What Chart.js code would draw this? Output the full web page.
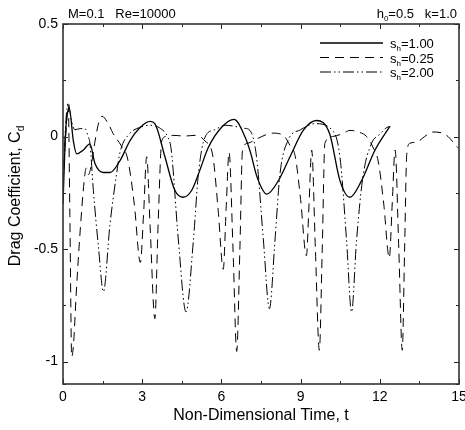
<!DOCTYPE html>
<html>
<head>
<meta charset="utf-8">
<script src="https://cdn.jsdelivr.net/npm/chart.js@4"></script>
<style>
  html, body { margin: 0; padding: 0; background: #fff; }
  #wrap { width: 465px; height: 430px; }
</style>
</head>
<body>
<div id="wrap"><canvas id="c" width="465" height="430"></canvas></div>
<script>
// ---- data ----
const solidT = [0,0.1,0.24,0.39,0.52,0.77,1.02,1.21,1.53,1.78,2.16,2.54,2.92,3.3,3.48,3.86,4.24,4.56,4.87,5.13,5.5,6.0,6.48,6.9,7.1,7.35,7.72,8.16,8.6,9.1,9.6,10.1,10.49,10.87,11.31,11.82,12.38];
const solidCd = [-0.3,0.02,0.124,-0.018,-0.077,-0.06,-0.033,-0.12,-0.16,-0.16,-0.107,-0.018,0.04,0.067,0.057,-0.09,-0.24,-0.27,-0.24,-0.167,-0.05,0.04,0.076,-0.003,-0.07,-0.18,-0.256,-0.196,-0.09,0.027,0.071,0.012,-0.196,-0.27,-0.196,-0.06,0.045];

const dashT = [0,0.1,0.2,0.26,0.33,0.4,0.5,0.65,0.8,0.88,0.96,1.05,1.2,1.35,1.48,1.7,1.9,2.2,2.45,2.7,2.93,3.05,3.17,3.3,3.48,3.6,3.74,3.9,4.2,4.6,5.0,5.38,5.68,5.88,6.07,6.18,6.29,6.44,6.58,6.7,6.8,7.0,7.35,7.95,8.35,8.6,8.8,9.0,9.22,9.32,9.42,9.56,9.71,9.82,9.92,10.2,10.6,10.87,11.19,11.5,11.75,11.94,12.15,12.36,12.47,12.58,12.72,12.85,12.94,13.02,13.14,13.4,13.7,14.0,14.47,14.96];
const dashCd = [-0.2,0.0,0.14,-0.35,-0.98,-0.92,-0.7,-0.42,-0.2,-0.14,-0.17,-0.14,-0.03,0.06,0.09,0.06,0.013,-0.04,-0.1,-0.3,-0.56,-0.35,-0.09,-0.4,-0.81,-0.4,-0.02,0.0,0.005,0.002,0.005,-0.02,-0.09,-0.33,-0.59,-0.32,-0.07,-0.5,-0.955,-0.5,-0.06,-0.03,-0.01,0.015,0.004,-0.04,-0.09,-0.28,-0.53,-0.3,-0.06,-0.5,-0.95,-0.5,-0.03,0.0,0.013,0.027,0.02,0.0,-0.05,-0.11,-0.3,-0.54,-0.3,-0.06,-0.5,-0.95,-0.5,-0.08,-0.03,-0.025,0.0,0.02,0.01,-0.05];

const ddT = [0,0.1,0.2,0.3,0.45,0.65,0.83,0.95,1.02,1.15,1.35,1.53,1.78,2.03,2.16,2.5,2.9,3.3,3.7,3.97,4.1,4.37,4.66,4.94,5.13,5.38,5.75,6.14,6.9,7.08,7.33,7.59,7.82,8.03,8.22,8.52,9.0,9.55,10.18,10.49,10.74,10.93,11.12,11.36,11.69,12.0,12.26,12.4];
const ddCd = [-0.25,0.05,0.15,0.08,0.03,0.035,0.035,0.0,-0.03,-0.24,-0.5,-0.69,-0.39,-0.165,-0.07,0.01,0.04,0.05,0.035,-0.003,-0.06,-0.46,-0.78,-0.46,-0.165,-0.003,0.03,0.05,0.036,0.027,-0.09,-0.46,-0.765,-0.46,-0.166,-0.018,0.03,0.057,0.03,-0.09,-0.46,-0.78,-0.46,-0.18,-0.03,0.01,0.04,0.045];

const seriesValues = ['1.00', '0.25', '2.00'];
const xTickValues = [0,1.5,3,4.5,6,7.5,9,10.5,12,13.5,15];
const xTickLabels = ['0','','3','','6','','9','','12','','15'];
const yTickValues = [-1.1,-1,-0.75,-0.5,-0.25,0,0.25,0.5];
const yTickLabels = ['','-1','','-0.5','','0','','0.5'];
// ---------------

function zip(t, v) {
  const n = Math.min(t.length, v.length);
  const out = [];
  for (let i = 0; i < n; i++) out.push({x: t[i], y: v[i]});
  return out;
}

const FONT = '"Liberation Sans", Arial, Helvetica, sans-serif';
const dashes = [[], [9, 6], [11, 3, 1.5, 3, 1.5, 3]];
const widths = [1.3, 1, 1];

function drawParts(ctx, x, y, parts, size, align) {
  // parts: [text, isSub]
  const subSize = Math.round(size * 0.62);
  let w = 0;
  for (const [t, sub] of parts) {
    ctx.font = (sub ? subSize : size) + 'px ' + FONT;
    w += ctx.measureText(t).width;
  }
  let cx = x;
  if (align === 'right') cx = x - w;
  else if (align === 'center') cx = x - w / 2;
  ctx.textAlign = 'left';
  ctx.textBaseline = 'alphabetic';
  for (const [t, sub] of parts) {
    ctx.font = (sub ? subSize : size) + 'px ' + FONT;
    ctx.fillText(t, cx, sub ? y + size * 0.25 : y);
    cx += ctx.measureText(t).width;
  }
}

const decor = {
  id: 'decor',
  afterDraw(chart) {
    const ctx = chart.ctx;
    const a = chart.chartArea;
    const xs = chart.scales.x, ys = chart.scales.y;
    ctx.save();
    ctx.fillStyle = '#000';
    ctx.strokeStyle = '#222';
    // ticks (inward)
    ctx.lineWidth = 1;
    ctx.beginPath();
    xTickValues.forEach((v, i) => {
      const px = Math.round(xs.getPixelForValue(v)) + 0.5;
      const len = xTickLabels[i] !== '' ? 5 : 3;
      ctx.moveTo(px, a.bottom); ctx.lineTo(px, a.bottom - len);
      ctx.moveTo(px, a.top); ctx.lineTo(px, a.top + len);
    });
    yTickValues.forEach((v, i) => {
      if (v < ys.min || v > ys.max) return;
      const py = Math.round(ys.getPixelForValue(v)) + 0.5;
      const len = yTickLabels[i] !== '' ? 5 : 3;
      ctx.moveTo(a.left, py); ctx.lineTo(a.left + len, py);
      ctx.moveTo(a.right, py); ctx.lineTo(a.right - len, py);
    });
    ctx.stroke();
    // frame
    ctx.lineWidth = 1.6;
    ctx.strokeStyle = '#333';
    ctx.strokeRect(a.left, a.top, a.right - a.left, a.bottom - a.top);

    // header texts
    ctx.fillStyle = '#000';
    drawParts(ctx, a.left + 5, 18, [['M=0.1   Re=10000', false]], 13, 'left');
    drawParts(ctx, a.right - 2, 18, [['h', false], ['0', true], ['=0.5   k=1.0', false]], 13, 'right');

    // legend
    chart.data.datasets.forEach((ds, i) => {
      const ly = 43 + i * 14.5;
      ctx.save();
      ctx.strokeStyle = '#000';
      ctx.lineWidth = widths[i];
      ctx.setLineDash(dashes[i]);
      ctx.beginPath();
      ctx.moveTo(320, ly); ctx.lineTo(383, ly);
      ctx.stroke();
      ctx.restore();
      drawParts(ctx, 390, ly + 5, [['s', false], ['h', true], ['=' + seriesValues[i], false]], 13, 'left');
    });

    // axis titles
    drawParts(ctx, (a.left + a.right) / 2, 420, [['Non-Dimensional Time, t', false]], 16, 'center');
    ctx.save();
    ctx.translate(20, 196);
    ctx.rotate(-Math.PI / 2);
    drawParts(ctx, 0, 0, [['Drag Coefficient, C', false], ['d', true]], 16, 'center');
    ctx.restore();
    ctx.restore();
  }
};

function mkDs(label, t, v, i) {
  return {
    label: label,
    data: zip(t, v),
    borderColor: '#000',
    borderWidth: widths[i],
    borderDash: dashes[i],
    pointRadius: 0,
    fill: false,
    cubicInterpolationMode: 'monotone'
  };
}

new Chart(document.getElementById('c'), {
  type: 'line',
  data: {
    datasets: [
      mkDs('s_h=' + seriesValues[0], solidT, solidCd, 0),
      mkDs('s_h=' + seriesValues[1], dashT, dashCd, 1),
      mkDs('s_h=' + seriesValues[2], ddT, ddCd, 2)
    ]
  },
  options: {
    responsive: false,
    animation: false,
    devicePixelRatio: 1,
    layout: { padding: { top: 24, right: 6, left: 0, bottom: 0 } },
    plugins: { legend: { display: false }, title: { display: false }, tooltip: { enabled: false } },
    scales: {
      x: {
        type: 'linear', min: 0, max: 15,
        grid: { display: false, drawTicks: false },
        border: { display: false },
        afterBuildTicks(s) { s.ticks = xTickValues.map(v => ({ value: v })); },
        afterFit(s) { s.height = 46; s.paddingLeft = 0; s.paddingRight = 0; },
        ticks: {
          padding: 5, color: '#000', maxRotation: 0, autoSkip: false,
          font: { family: FONT, size: 14 },
          callback(v, i) { return xTickLabels[i]; }
        }
      },
      y: {
        type: 'linear', min: -1.1, max: 0.5,
        grid: { display: false, drawTicks: false },
        border: { display: false },
        afterBuildTicks(s) { s.ticks = yTickValues.map(v => ({ value: v })); },
        afterFit(s) { s.width = 63; s.paddingTop = 0; s.paddingBottom = 0; },
        ticks: {
          padding: 5, color: '#000', autoSkip: false,
          font: { family: FONT, size: 14 },
          callback(v, i) { return yTickLabels[i]; }
        }
      }
    }
  },
  plugins: [decor]
});
</script>
</body>
</html>
